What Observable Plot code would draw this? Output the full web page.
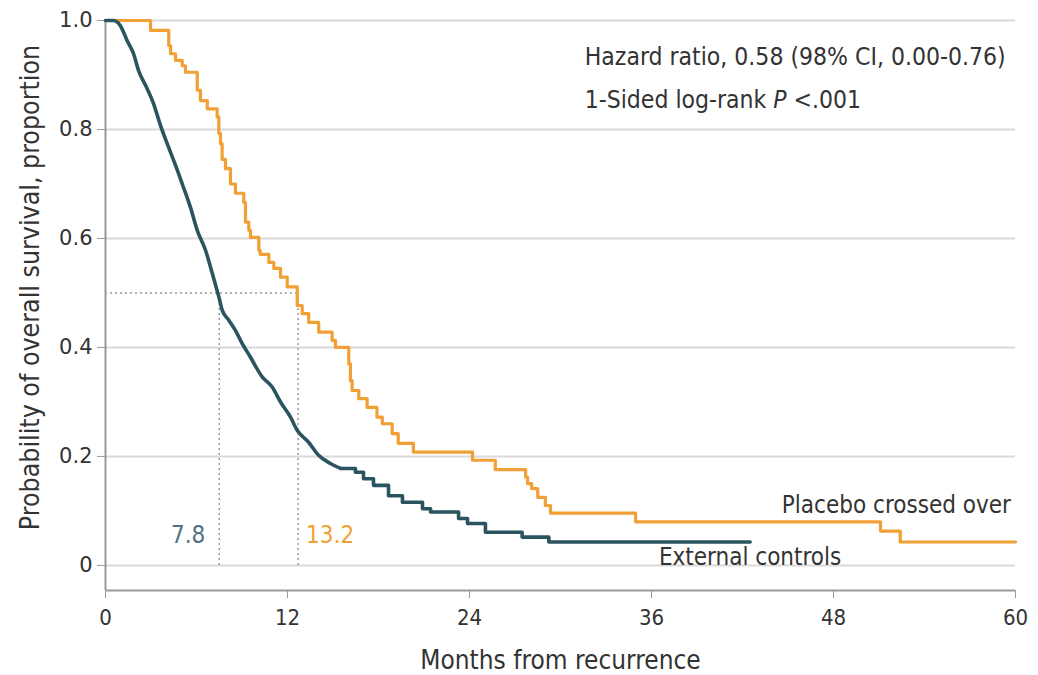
<!DOCTYPE html>
<html>
<head>
<meta charset="utf-8">
<script src="https://cdn.jsdelivr.net/npm/d3@7"></script>
<script src="https://cdn.jsdelivr.net/npm/@observablehq/plot@0.6"></script>
<style>
  html, body { margin: 0; padding: 0; background: #fff; }
  #chart svg { display: block; }
</style>
</head>
<body>
<div id="chart"></div>
<script>
// ---- Data ----
// Placebo crossed over: Kaplan–Meier steps (month, survival after the step)
const placeboMonths = [0, 2.97, 4.17, 4.29, 4.62, 5.06, 5.27, 6.05, 6.26, 6.71, 7.36, 7.47, 7.58, 7.69, 7.91, 8.24, 8.57, 9.12, 9.23, 9.45, 9.56, 10.11, 10.2, 10.77, 11.1, 11.54, 11.98, 12.64, 12.97, 13.4, 14.06, 14.94, 15.16, 16.04, 16.15, 16.26, 16.7, 17.25, 17.9, 18.25, 18.9, 19.3, 20.3, 21.3, 24.2, 25.7, 27.7, 27.83, 28.1, 28.5, 29.0, 29.34, 34.95, 51.1, 52.4, 60];
const placeboSurv   = [1.0, 0.982, 0.954, 0.939, 0.927, 0.917, 0.905, 0.872, 0.853, 0.838, 0.823, 0.793, 0.774, 0.745, 0.728, 0.70, 0.683, 0.666, 0.630, 0.615, 0.602, 0.578, 0.571, 0.556, 0.545, 0.529, 0.511, 0.477, 0.462, 0.446, 0.428, 0.413, 0.40, 0.37, 0.339, 0.321, 0.306, 0.29, 0.272, 0.26, 0.242, 0.224, 0.208, 0.208, 0.193, 0.176, 0.162, 0.150, 0.141, 0.125, 0.11, 0.096, 0.080, 0.063, 0.043, 0.043];

// External controls (dense small steps early, visible steps later)
const externalMonths = [0, 0.53, 0.99, 1.43, 1.85, 2.18, 2.64, 3.16, 3.63, 4.15, 4.62, 5.06, 5.6, 6.05, 6.6, 7.04, 7.48, 7.7, 8.13, 8.69, 8.9, 9.56, 10.33, 11.0, 11.54, 12.2, 12.64, 13.39, 14.05, 14.83, 15.5, 16.48, 17.01, 17.67, 18.66, 19.58, 20.9, 21.43, 23.28, 23.87, 25.05, 27.47, 29.23, 42.5];
const externalSurv   = [1.0, 1.0, 0.99, 0.963, 0.939, 0.908, 0.881, 0.848, 0.807, 0.768, 0.734, 0.70, 0.657, 0.615, 0.578, 0.536, 0.492, 0.468, 0.45, 0.425, 0.413, 0.382, 0.346, 0.327, 0.30, 0.272, 0.248, 0.226, 0.202, 0.187, 0.178, 0.171, 0.159, 0.147, 0.128, 0.116, 0.104, 0.098, 0.086, 0.077, 0.061, 0.052, 0.043, 0.043];
// month after which the external-controls steps become individually visible
const externalDenseUntil = 15.5;

// Medians (drawn position, label)
const medianAt     = [7.5, 12.7];
const medianLabels = ["7.8", "13.2"];

// Axes
const xTicks = [0, 12, 24, 36, 48, 60];
const yTicks = [0, 0.2, 0.4, 0.6, 0.8, 1.0];
const yTickLabels = ["0", "0.2", "0.4", "0.6", "0.8", "1.0"];

// Text
const xTitle = "Months from recurrence";
const yTitle = "Probability of overall survival, proportion";
const statLines = ["Hazard ratio, 0.58 (98% CI, 0.00-0.76)", "1-Sided log-rank P <.001"];
const seriesNames = ["Placebo crossed over", "External controls"];

// ---- Build tables ----
const placebo  = placeboMonths.map((m, i) => ({month: m, surv: placeboSurv[i]}));
const external = externalMonths.map((m, i) => ({month: m, surv: externalSurv[i]}));
const externalEarly = external.filter(d => d.month <= externalDenseUntil);
const externalLate  = external.filter(d => d.month >= externalDenseUntil);

const TEAL = "#2a5560";
const ORANGE = "#f0a034";
const FONT = "'DejaVu Sans Condensed', 'DejaVu Sans', sans-serif";
const yBottom = -0.046;

const chart = Plot.plot({
  width: 1038,
  height: 675,
  marginLeft: 105,
  marginRight: 23,
  marginTop: 20,
  marginBottom: 85,
  style: {fontFamily: FONT, color: "#333", background: "#fff", overflow: "visible"},
  x: {domain: [0, 60]},
  y: {domain: [yBottom, 1]},
  marks: [
    Plot.ruleY(yTicks, {stroke: "#dadada", strokeWidth: 2}),
    Plot.ruleX([0], {stroke: "#9a9a9a", strokeWidth: 2}),
    Plot.ruleY([yBottom], {stroke: "#9a9a9a", strokeWidth: 2}),
    Plot.axisY({ticks: yTicks, tickFormat: d => yTickLabels[yTicks.indexOf(d)], tickSize: 8, tickPadding: 5,
      stroke: "#9a9a9a", label: null, fontSize: 21, fontFamily: "'DejaVu Sans', sans-serif", fill: "#333"}),
    Plot.axisX({ticks: xTicks, tickSize: 8, tickPadding: 11, stroke: "#9a9a9a", label: null,
      fontSize: 22, fontFamily: FONT, fill: "#333"}),
    // median guides
    Plot.ruleY([0.5], {x1: 0, x2: medianAt[1], stroke: "#999", strokeWidth: 1.5, strokeDasharray: "2,3"}),
    Plot.ruleX(medianAt, {y1: 0, y2: 0.5, stroke: "#999", strokeWidth: 1.5, strokeDasharray: "2,3"}),
    // curves
    Plot.line(placebo, {x: "month", y: "surv", curve: "step-after", stroke: ORANGE, strokeWidth: 3.2}),
    Plot.line(externalEarly, {x: "month", y: "surv", curve: "monotone-x", stroke: TEAL, strokeWidth: 3.6}),
    Plot.line(externalLate, {x: "month", y: "surv", curve: "step-after", stroke: TEAL, strokeWidth: 3.6}),
    // median labels
    Plot.text([medianLabels[0]], {x: medianAt[0], y: 0.055, text: d => d, dx: -14, textAnchor: "end", fill: "#4f7180", fontSize: 24}),
    Plot.text([medianLabels[1]], {x: medianAt[1], y: 0.055, text: d => d, dx: 8, textAnchor: "start", fill: ORANGE, fontSize: 24}),
    // series labels
    Plot.text([seriesNames[0]], {x: 59.7, y: 0.11, text: d => d, textAnchor: "end", fontSize: 24, fill: "#333"}),
    Plot.text([seriesNames[1]], {x: 42.5, y: 0.015, text: d => d, textAnchor: "middle", fontSize: 24, fill: "#333"}),
    // stats
    Plot.text([statLines[0]], {x: 31.6, y: 0.932, text: d => d, textAnchor: "start", fontSize: 24.5, fill: "#333"}),
    Plot.text([statLines[1]], {x: 31.6, y: 0.853, text: d => d, textAnchor: "start", fontSize: 24.5, fill: "#333", className: "pline"}),
    // axis titles
    Plot.text([xTitle], {frameAnchor: "bottom", dy: 78, text: d => d, fontSize: 26, fill: "#333"}),
    Plot.text([yTitle], {frameAnchor: "left", dx: -75, dy: -18, rotate: -90, textAnchor: "middle", text: d => d, fontSize: 26.5, fill: "#333"})
  ]
});

document.getElementById("chart").appendChild(chart);

// italic P in the log-rank line
d3.select(chart).selectAll(".pline text").each(function() {
  const s = d3.select(this).text();
  const k = s.indexOf(" P ");
  if (k < 0) return;
  const t = d3.select(this);
  t.text(null);
  t.append("tspan").text(s.slice(0, k + 1));
  t.append("tspan").attr("font-style", "italic").text("P");
  t.append("tspan").text(s.slice(k + 2));
});
</script>
</body>
</html>
